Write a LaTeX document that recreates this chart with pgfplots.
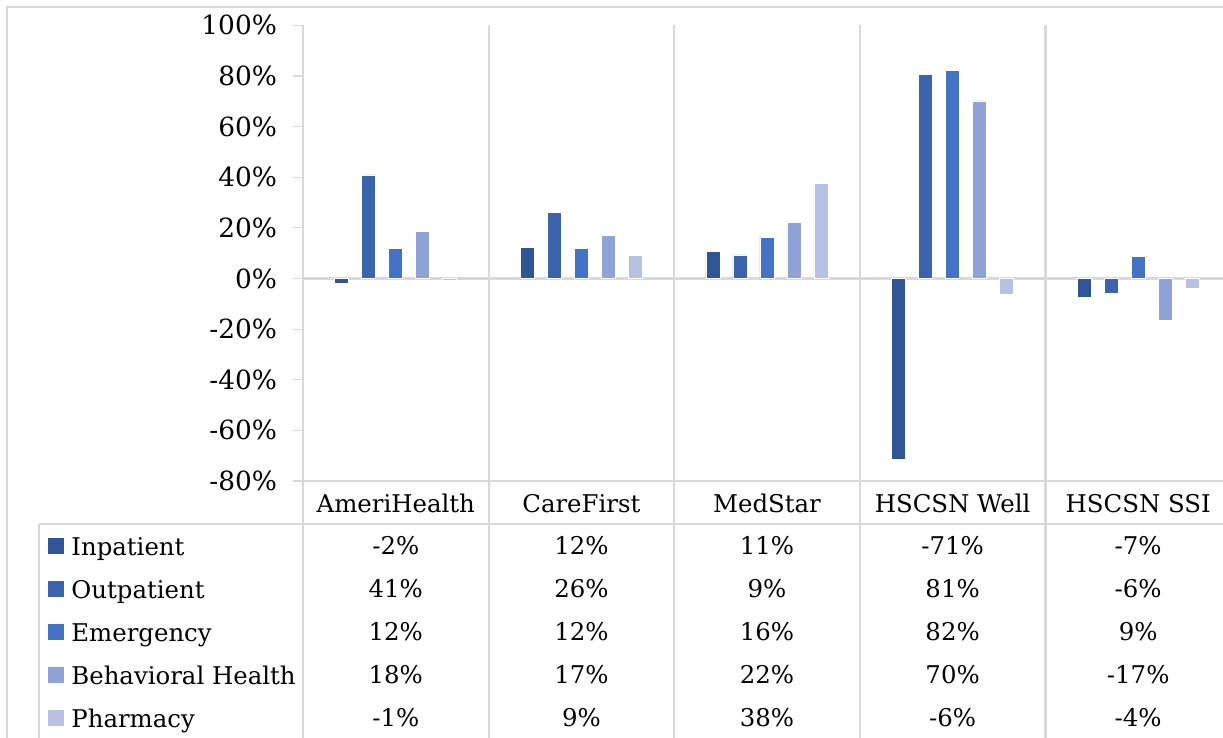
\documentclass[border=0pt]{standalone}
\usepackage{pgfplots}
\pgfplotsset{compat=1.18}
\usepackage{fontspec}
\setmainfont{DejaVu Serif}
\definecolor{cIn}{HTML}{2F5597}
\definecolor{cOut}{HTML}{3B64AD}
\definecolor{cEm}{HTML}{4472C4}
\definecolor{cBH}{HTML}{8FA3D6}
\definecolor{cPh}{HTML}{B7C2E3}
\definecolor{gl}{HTML}{D9D9D9}
\newcommand{\fs}{\fontsize{12.2pt}{14pt}\selectfont}
\newcommand{\ft}{\fontsize{13.2pt}{15pt}\selectfont}
\begin{document}
\begin{tikzpicture}
\path[use as bounding box] (0,0) rectangle (611.5pt,-369pt);
\clip (0,0) rectangle (611.5pt,-369pt);
\begin{scope}[x=0.5pt,y=-0.5pt]
\draw[gl, line width=1pt] (7,7) rectangle (1260,760);
\foreach \k in {0,...,5} {\draw[gl, line width=1.1pt] ({303+185.6*\k},25) -- ({303+185.6*\k},760);}
\draw[gl, line width=1.1pt] (293,481) -- (1260,481);
\draw[gl, line width=1.1pt] (39,524) -- (1260,524);
\draw[gl, line width=1.1pt] (39,524) -- (39,760);
\end{scope}
\begin{axis}[
  at={(151.5pt,-240.5pt)}, anchor=south west,
  scale only axis, width=464pt, height=227.85pt,
  xmin=-0.5, xmax=4.5, ymin=-80, ymax=100,
  ybar=6.5pt, bar width=7pt,
  axis line style={draw=none},
  ytick={-80,-60,...,100}, ytick pos=left,
  tick align=outside, major tick length=5pt,
  ytick style={draw=gl, line width=0.6pt},
  yticklabel={\pgfmathprintnumber{\tick}\%},
  yticklabel style={font=\ft, xshift=-4.5pt},
  /pgf/number format/assume math mode=true,
  xtick={0,...,4}, xtick style={draw=none},
  xticklabels={AmeriHealth, CareFirst, MedStar, HSCSN Well, HSCSN SSI},
  xticklabel style={font=\fs, yshift=2pt},
  clip=false,
  every axis plot/.append style={draw=white, line width=0.4pt},
]
\draw[gl, line width=1.1pt] (axis cs:-0.5,0) -- (axis cs:4.6,0);
\addplot[fill=cIn] coordinates {(0,-1.8) (1,12.2) (2,10.6) (3,-71.4) (4,-7.4)};
\addplot[fill=cOut] coordinates {(0,40.9) (1,26.0) (2,9.3) (3,80.6) (4,-6.0)};
\addplot[fill=cEm] coordinates {(0,11.7) (1,11.8) (2,16.3) (3,82.0) (4,8.7)};
\addplot[fill=cBH] coordinates {(0,18.4) (1,17.1) (2,22.1) (3,70.1) (4,-16.7)};
\addplot[fill=cPh] coordinates {(0,-0.6) (1,9.1) (2,37.6) (3,-6.2) (4,-3.8)};
\end{axis}
\begin{scope}[x=0.5pt,y=-0.5pt]
\foreach \c/\n [count=\i from 0] in {cIn/Inpatient,cOut/Outpatient,cEm/Emergency,cBH/Behavioral Health,cPh/Pharmacy} {
  \fill[\c] (48,{538+43*\i}) rectangle (64,{554+43*\i});
  \node[anchor=base west, inner sep=0pt, font=\fs] at (71,{555+43*\i}) {\n};
}
\foreach \r [count=\i from 0] in {{-2\%,12\%,11\%,-71\%,-7\%},{41\%,26\%,9\%,81\%,-6\%},{12\%,12\%,16\%,82\%,9\%},{18\%,17\%,22\%,70\%,-17\%},{-1\%,9\%,38\%,-6\%,-4\%}} {
  \foreach \v [count=\j from 0] in \r {
    \node[inner sep=0pt, font=\fs] at ({303+185.6*(\j+0.5)},{546+43*\i}) {\v};
  }
}
\end{scope}
\end{tikzpicture}
\end{document}
